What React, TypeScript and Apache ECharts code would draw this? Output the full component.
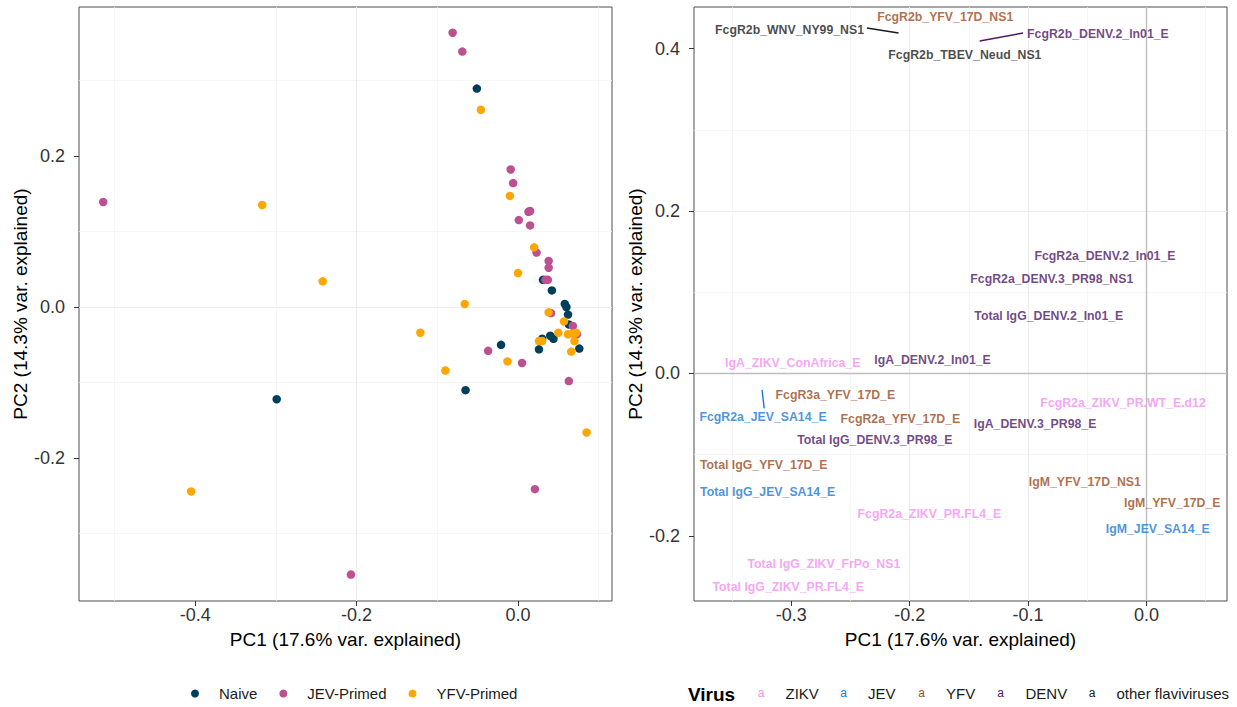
import React, { useEffect, useRef } from "react";
import * as echarts from "echarts";

// ---------- Left panel: PCA scores ----------
const groups = ["Naive", "JEV-Primed", "YFV-Primed"];
const groupColors = ["#003f5c", "#bc5090", "#ffa600"];

const naivePC1 = [-0.051, -0.299, -0.065, -0.021, 0.031, 0.042, 0.058, 0.06, 0.062, 0.063, 0.04, 0.044, 0.03, 0.026, 0.076];
const naivePC2 = [0.289, -0.122, -0.11, -0.05, 0.036, 0.022, 0.004, 0.0, -0.01, -0.023, -0.038, -0.042, -0.042, -0.056, -0.055];

const jevPC1 = [-0.081, -0.069, -0.514, -0.207, 0.021, -0.009, -0.006, 0.013, 0.015, 0.001, 0.015, 0.023, 0.038, 0.038, 0.034, 0.037, 0.041, 0.068, 0.073, -0.037, 0.005, 0.063];
const jevPC2 = [0.363, 0.338, 0.139, -0.354, -0.241, 0.182, 0.164, 0.126, 0.127, 0.115, 0.108, 0.072, 0.061, 0.052, 0.036, 0.036, -0.008, -0.025, -0.036, -0.058, -0.074, -0.098];

const yfvPC1 = [-0.046, -0.317, -0.242, -0.121, -0.405, 0.085, -0.09, -0.01, 0.02, 0.0, -0.066, 0.038, 0.057, 0.05, 0.062, 0.068, 0.072, 0.07, 0.026, 0.03, 0.066, -0.013];
const yfvPC2 = [0.261, 0.135, 0.034, -0.034, -0.244, -0.166, -0.084, 0.147, 0.079, 0.045, 0.004, -0.007, -0.019, -0.034, -0.036, -0.035, -0.034, -0.045, -0.045, -0.045, -0.059, -0.072];

const leftXTicks = [-0.4, -0.2, 0.0];
const leftYTicks = [-0.2, 0.0, 0.2];

// ---------- Right panel: loadings labels ----------
const loadingNames = [
  "FcgR2b_WNV_NY99_NS1", "FcgR2b_YFV_17D_NS1", "FcgR2b_DENV.2_In01_E", "FcgR2b_TBEV_Neud_NS1",
  "FcgR2a_DENV.2_In01_E", "FcgR2a_DENV.3_PR98_NS1", "Total IgG_DENV.2_In01_E", "IgA_ZIKV_ConAfrica_E",
  "IgA_DENV.2_In01_E", "FcgR3a_YFV_17D_E", "FcgR2a_JEV_SA14_E", "FcgR2a_ZIKV_PR.WT_E.d12",
  "FcgR2a_YFV_17D_E", "IgA_DENV.3_PR98_E", "Total IgG_DENV.3_PR98_E", "Total IgG_YFV_17D_E",
  "Total IgG_JEV_SA14_E", "IgM_YFV_17D_NS1", "IgM_YFV_17D_E", "IgM_JEV_SA14_E",
  "FcgR2a_ZIKV_PR.FL4_E", "Total IgG_ZIKV_FrPo_NS1", "Total IgG_ZIKV_PR.FL4_E",
];
const loadingPC1 = [
  -0.3015, -0.17, -0.041, -0.1534,
  -0.0351, -0.08, -0.0825, -0.2988,
  -0.1807, -0.2628, -0.3239, -0.0198,
  -0.2079, -0.0941, -0.2295, -0.3233,
  -0.32, -0.0521, 0.0218, 0.0095,
  -0.1834, -0.2725, -0.3026,
];
const loadingPC2 = [
  0.423, 0.4394, 0.4185, 0.3919,
  0.1447, 0.116, 0.0704, 0.0129,
  0.0163, -0.0269, -0.0532, -0.0367,
  -0.0564, -0.0622, -0.0819, -0.1127,
  -0.1463, -0.134, -0.1599, -0.1919,
  -0.173, -0.235, -0.2633,
];
const loadingVirus = [
  "other flaviviruses", "YFV", "DENV", "other flaviviruses",
  "DENV", "DENV", "DENV", "ZIKV",
  "DENV", "YFV", "JEV", "ZIKV",
  "YFV", "DENV", "DENV", "YFV",
  "JEV", "YFV", "YFV", "JEV",
  "ZIKV", "ZIKV", "ZIKV",
];

// repel connector segments (label -> loading point)
const segVirus = ["other flaviviruses", "DENV", "JEV"];
const segFrom = [[-0.2362, 0.4255], [-0.1409, 0.4095], [-0.3247, -0.0203]];
const segTo = [[-0.2094, 0.4193], [-0.1042, 0.4193], [-0.3229, -0.0429]];

const viruses = ["ZIKV", "JEV", "YFV", "DENV", "other flaviviruses"];
const virusColors = ["#f38ef3", "#1a78d6", "#9c4a1c", "#4e1766", "#1a1a1a"];

const rightXTicks = [-0.3, -0.2, -0.1, 0.0];
const rightYTicks = [-0.2, 0.0, 0.2, 0.4];

const FONT = "'Liberation Sans', Arial, Helvetica, sans-serif";

function colorOf(v: string) {
  return virusColors[viruses.indexOf(v)];
}

function makeAxis(opts: any, ticks: number[]) {
  const isTick = (v: number) => ticks.some((t) => Math.abs(t - v) < 1e-6);
  return {
    type: "value",
    splitNumber: opts.splitNumber,
    min: opts.min,
    max: opts.max,
    gridIndex: opts.gridIndex,
    position: opts.position,
    name: opts.name,
    nameLocation: "middle",
    nameGap: opts.nameGap,
    nameTextStyle: { color: "#000", fontSize: 19, fontFamily: FONT },
    axisLine: { show: false, onZero: false },
    axisTick: {
      show: true,
      length: 5,
      customValues: ticks,
      lineStyle: { color: "#333", width: 1 },
    },
    axisLabel: {
      show: true,
      margin: opts.labelMargin,
      color: "#333",
      fontSize: 18,
      fontFamily: FONT,
      customValues: ticks,
      formatter: (v: number) => (isTick(v) ? v.toFixed(1) : ""),
    },
    splitLine: {
      show: true,
      showMinLine: false,
      showMaxLine: false,
      lineStyle: { color: "#ebebeb", width: 1.1 },
    },
    minorTick: { show: false, splitNumber: 2 },
    minorSplitLine: { show: true, lineStyle: { color: "#f2f2f2", width: 0.7 } },
  };
}

export default function App() {
  const ref = useRef<HTMLDivElement>(null);

  useEffect(() => {
    if (!ref.current) return;
    const chart = echarts.init(ref.current, undefined, { renderer: "svg" });

    const pts = (xs: number[], ys: number[]) => xs.map((x, i) => [x, ys[i]]);

    const scoreSeries = [
      { name: groups[0], data: pts(naivePC1, naivePC2), color: groupColors[0] },
      { name: groups[1], data: pts(jevPC1, jevPC2), color: groupColors[1] },
      { name: groups[2], data: pts(yfvPC1, yfvPC2), color: groupColors[2] },
    ].map((s) => ({
      type: "scatter",
      name: s.name,
      xAxisIndex: 0,
      yAxisIndex: 0,
      data: s.data,
      symbol: "circle",
      symbolSize: 8.5,
      itemStyle: { color: s.color, opacity: 1 },
      z: 3,
    }));

    const labelData = loadingNames.map((n, i) => ({
      name: n,
      value: [loadingPC1[i], loadingPC2[i]],
      label: { color: colorOf(loadingVirus[i]) },
    }));

    const segSeries = segFrom.map((f, i) => ({
      type: "line",
      xAxisIndex: 1,
      yAxisIndex: 1,
      data: [f, segTo[i]],
      symbol: "none",
      lineStyle: { color: colorOf(segVirus[i]), width: 1.4 },
      z: 4,
      silent: true,
    }));

    const legendItems: any[] = [];
    const keyX = [761, 843.5, 921.5, 1000.5, 1092];
    const textX = [785.5, 868, 946, 1025.5, 1116.5];
    legendItems.push({
      type: "text",
      x: 688,
      y: 694,
      style: {
        text: "Virus",
        fill: "#000",
        font: `bold 19px ${FONT}`,
        textAlign: "left",
        textVerticalAlign: "middle",
        verticalAlign: "middle",
      },
    });
    viruses.forEach((v, i) => {
      legendItems.push({
        type: "text",
        x: keyX[i],
        y: 693,
        style: {
          text: "a",
          fill: virusColors[i],
          font: `12px ${FONT}`,
          textAlign: "center",
          textVerticalAlign: "middle",
          verticalAlign: "middle",
        },
      });
      legendItems.push({
        type: "text",
        x: textX[i],
        y: 693,
        style: {
          text: v,
          fill: "#1a1a1a",
          font: `15px ${FONT}`,
          textAlign: "left",
          textVerticalAlign: "middle",
          verticalAlign: "middle",
        },
      });
    });

    const option: any = {
      animation: false,
      backgroundColor: "#ffffff",
      textStyle: { fontFamily: FONT },
      grid: [
        { left: 79, top: 7, width: 533, height: 594, show: true, borderColor: "#4d4d4d", borderWidth: 1, backgroundColor: "transparent" },
        { left: 694, top: 7, width: 533, height: 594, show: true, borderColor: "#4d4d4d", borderWidth: 1, backgroundColor: "transparent" },
      ],
      xAxis: [
        makeAxis({ gridIndex: 0, position: "bottom", min: -0.544, max: 0.1165, splitNumber: 3, name: "PC1 (17.6% var. explained)", nameGap: 29, labelMargin: 5 }, leftXTicks),
        makeAxis({ gridIndex: 1, position: "bottom", min: -0.3822, max: 0.068, splitNumber: 4, name: "PC1 (17.6% var. explained)", nameGap: 29, labelMargin: 5 }, rightXTicks),
      ],
      yAxis: [
        makeAxis({ gridIndex: 0, position: "left", min: -0.389, max: 0.397, splitNumber: 4, name: "PC2 (14.3% var. explained)", nameGap: 40, labelMargin: 14 }, leftYTicks),
        makeAxis({ gridIndex: 1, position: "left", min: -0.2802, max: 0.4513, splitNumber: 4, name: "PC2 (14.3% var. explained)", nameGap: 40, labelMargin: 14 }, rightYTicks),
      ],
      legend: {
        data: groups,
        left: 191,
        top: 686,
        padding: 0,
        orient: "horizontal",
        icon: "circle",
        itemWidth: 38,
        itemHeight: 8,
        itemGap: 22,
        textStyle: { fontSize: 15, color: "#1a1a1a", fontFamily: FONT },
        selectedMode: false,
      },
      graphic: legendItems,
      series: [
        ...scoreSeries,
        {
          type: "line",
          xAxisIndex: 1,
          yAxisIndex: 1,
          data: [],
          z: 1,
          silent: true,
          markLine: {
            silent: true,
            symbol: ["none", "none"],
            label: { show: false },
            lineStyle: { color: "#bdbdbd", width: 1.4, type: "solid" },
            data: [{ xAxis: 0 }, { yAxis: 0 }],
          },
        },
        ...segSeries,
        {
          type: "scatter",
          xAxisIndex: 1,
          yAxisIndex: 1,
          data: labelData,
          symbol: "circle",
          symbolSize: 1,
          itemStyle: { color: "rgba(0,0,0,0)" },
          z: 5,
          silent: true,
          label: {
            show: true,
            position: "inside",
            formatter: (p: any) => p.name,
            fontSize: 12.3,
            fontWeight: "bold",
            fontFamily: FONT,
          },
          labelLayout: { hideOverlap: false },
        },
      ],
    };

    chart.setOption(option);
    return () => chart.dispose();
  }, []);

  return (
    <div
      ref={ref}
      style={{ position: "absolute", left: 0, top: 0, width: 1237, height: 707 }}
    />
  );
}
